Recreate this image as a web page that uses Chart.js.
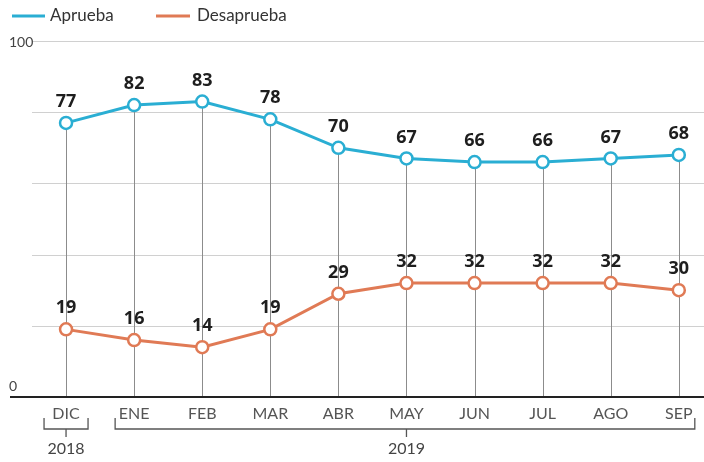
<!DOCTYPE html>
<html><head><meta charset="utf-8">
<script src="https://cdn.jsdelivr.net/npm/chart.js@4"></script>
<style>html,body{margin:0;padding:0;background:#fff}#wrap{width:704px;height:462px}</style>
</head><body><div id="wrap"><canvas id="c"></canvas></div>
<script>
const months = ['DIC','ENE','FEB','MAR','ABR','MAY','JUN','JUL','AGO','SEP'];
const aprueba = [77,82,83,78,70,67,66,66,67,68];
const desaprueba = [19,16,14,19,29,32,32,32,32,30];
const gridValues = [20,40,60,80,100];
const yLabelTop = '100';
const yLabelBottom = '0';
const yearGroups = [
  {label:'2018', from:0, to:0, center:0},
  {label:'2019', from:1, to:9, center:5}
];
const seriesNames = ['Aprueba','Desaprueba'];
const BLUE = '#2aaed3', ORANGE = '#e07a55';

const decor = {
  id:'decor',
  beforeDatasetsDraw(chart){
    const ctx = chart.ctx, xs = chart.scales.x, ys = chart.scales.y, ca = chart.chartArea;
    ctx.save();
    ctx.strokeStyle = '#d0d0d0'; ctx.lineWidth = 1;
    gridValues.forEach(v=>{
      const y = Math.round(ys.getPixelForValue(v))+0.5;
      ctx.beginPath(); ctx.moveTo(ca.left,y); ctx.lineTo(704,y); ctx.stroke();
    });
    ctx.strokeStyle = '#8c8c8c'; ctx.lineWidth = 1;
    aprueba.forEach((v,i)=>{
      const x = Math.round(xs.getPixelForValue(i))+0.5;
      ctx.beginPath(); ctx.moveTo(x, ys.getPixelForValue(v)); ctx.lineTo(x, ys.getPixelForValue(0)); ctx.stroke();
    });
    const y0 = ys.getPixelForValue(0);
    ctx.strokeStyle = '#222'; ctx.lineWidth = 2;
    ctx.beginPath(); ctx.moveTo(10,y0); ctx.lineTo(704,y0); ctx.stroke();
    ctx.fillStyle = '#444'; ctx.font = '14px Lato, "Open Sans", sans-serif';
    ctx.textAlign = 'left'; ctx.textBaseline = 'middle';
    ctx.fillText(yLabelTop, 9, ys.getPixelForValue(100)+1);
    ctx.textBaseline = 'alphabetic';
    ctx.fillText(yLabelBottom, 9, y0-6);
    ctx.restore();
  },
  afterDatasetsDraw(chart){
    const ctx = chart.ctx;
    ctx.save();
    ctx.fillStyle = '#1e1e1e'; ctx.font = 'bold 18px "Open Sans", Lato, sans-serif';
    ctx.textAlign = 'center'; ctx.textBaseline = 'middle';
    chart.data.datasets.forEach((ds,di)=>{
      chart.getDatasetMeta(di).data.forEach((pt,i)=>{
        ctx.fillText(String(ds.data[i].y), pt.x, pt.y-21);
      });
    });
    ctx.restore();
  },
  afterDraw(chart){
    const ctx = chart.ctx, xs = chart.scales.x;
    ctx.save();
    // legend
    ctx.lineWidth = 3;
    ctx.strokeStyle = BLUE; ctx.beginPath(); ctx.moveTo(12,16); ctx.lineTo(45,16); ctx.stroke();
    ctx.strokeStyle = ORANGE; ctx.beginPath(); ctx.moveTo(156,16); ctx.lineTo(190,16); ctx.stroke();
    ctx.fillStyle = '#333'; ctx.font = '17px Lato, "Open Sans", sans-serif';
    ctx.textAlign = 'left'; ctx.textBaseline = 'middle';
    ctx.fillText(seriesNames[0], 50, 16);
    ctx.fillText(seriesNames[1], 197, 16);
    // month labels
    ctx.fillStyle = '#555'; ctx.font = '16px Lato, "Open Sans", sans-serif';
    ctx.textAlign = 'center';
    months.forEach((m,i)=>ctx.fillText(m, xs.getPixelForValue(i), 414));
    // brackets
    ctx.strokeStyle = '#555'; ctx.lineWidth = 1.3;
    yearGroups.forEach(g=>{
      const single = g.from===g.to;
      const xl = xs.getPixelForValue(g.from) - (single?22:19);
      const xr = xs.getPixelForValue(g.to) + (single?22:16);
      const yb = 429;
      ctx.beginPath();
      ctx.moveTo(xl,418); ctx.lineTo(xl,yb); ctx.lineTo(xr,yb); ctx.lineTo(xr,418);
      const xc = xs.getPixelForValue(g.center);
      ctx.moveTo(xc,yb); ctx.lineTo(xc,437);
      ctx.stroke();
      ctx.fillStyle = '#444'; ctx.font = '16px Lato, "Open Sans", sans-serif';
      ctx.fillText(g.label, xc, 449);
    });
    ctx.restore();
  }
};

new Chart(document.getElementById('c'), {
  type:'line',
  data:{
    datasets:[
      {label:seriesNames[0], data:aprueba.map((v,i)=>({x:i,y:v})), borderColor:BLUE, backgroundColor:'#fff',
       borderWidth:3, pointRadius:6, pointBorderWidth:2.5, pointBackgroundColor:'#fff', pointBorderColor:BLUE, tension:0, clip:false},
      {label:seriesNames[1], data:desaprueba.map((v,i)=>({x:i,y:v})), borderColor:ORANGE, backgroundColor:'#fff',
       borderWidth:3, pointRadius:6, pointBorderWidth:2.5, pointBackgroundColor:'#fff', pointBorderColor:ORANGE, tension:0, clip:false}
    ]
  },
  options:{
    responsive:true, maintainAspectRatio:false, animation:false,
    layout:{autoPadding:false, padding:{left:32,right:0,top:41,bottom:65}},
    plugins:{legend:{display:false}, tooltip:{enabled:false}},
    scales:{
      x:{type:'linear', min:-0.5, max:9.37, display:false},
      y:{type:'linear', min:0, max:100, display:false}
    }
  },
  plugins:[decor]
});
</script></body></html>
